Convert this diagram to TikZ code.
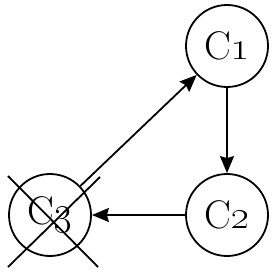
\documentclass[tikz,border=0pt]{standalone}
\usepackage{tikz}
\usetikzlibrary{arrows.meta}

\begin{document}
\begin{tikzpicture}[
    x=0.5pt, y=-0.5pt,
    line width=0.9pt,
    every node/.style={circle, draw, minimum size=41pt, inner sep=0pt, font=\fontsize{20}{22}\selectfont},
    >={Stealth[length=8.5pt,width=7pt,inset=1pt]}
  ]
  \useasboundingbox (0,0) rectangle (275,276);
  \node (c1) at (227,46) {C\oldstylenums{1}};
  \node (c2) at (227,215) {C\oldstylenums{2}};
  \node (c3) at (50,215) {C\oldstylenums{3}};
  \draw[->] (c1) -- (c2);
  \draw[->] (c2) -- (c3);
  \draw[->] (c3) -- (c1);
  % cross over c3
  \draw (c3.center) ++(-42,-39) -- ++(90,91);
  \draw (c3.center) ++(-42,52) -- ++(92,-90);
\end{tikzpicture}
\end{document}
